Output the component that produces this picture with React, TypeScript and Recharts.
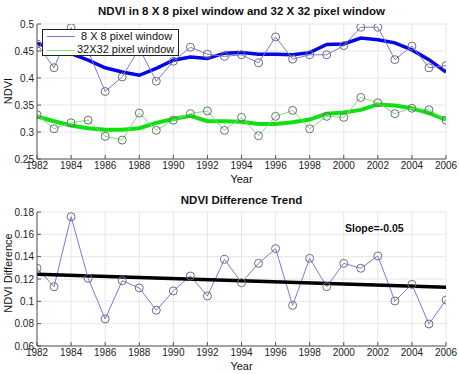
import React from 'react';
import { LineChart, Line, XAxis, YAxis, CartesianGrid } from 'recharts';

const years = [1982,1983,1984,1985,1986,1987,1988,1989,1990,1991,1992,1993,1994,1995,1996,1997,1998,1999,2000,2001,2002,2003,2004,2005,2006];
const ndvi8 = [0.463,0.419,0.493,0.450,0.375,0.402,0.455,0.394,0.431,0.457,0.444,0.440,0.443,0.428,0.476,0.435,0.443,0.443,0.460,0.494,0.494,0.434,0.459,0.419,0.423];
const smooth8 = [0.464,0.455,0.445,0.433,0.419,0.411,0.405,0.418,0.433,0.439,0.436,0.446,0.447,0.444,0.444,0.443,0.447,0.462,0.463,0.474,0.471,0.465,0.452,0.434,0.411];
const ndvi32 = [0.332,0.306,0.317,0.322,0.292,0.285,0.335,0.303,0.322,0.334,0.339,0.303,0.327,0.293,0.329,0.340,0.306,0.329,0.327,0.364,0.354,0.334,0.344,0.341,0.322];
const smooth32 = [0.329,0.320,0.312,0.307,0.304,0.304,0.307,0.317,0.324,0.330,0.320,0.320,0.319,0.315,0.315,0.318,0.323,0.334,0.336,0.341,0.351,0.349,0.344,0.335,0.323];
const diff = [0.1296,0.1131,0.1758,0.1206,0.0842,0.1185,0.112,0.092,0.1093,0.1227,0.1048,0.1376,0.1167,0.134,0.1472,0.0964,0.1385,0.1131,0.134,0.1296,0.1406,0.1003,0.1152,0.0797,0.1012];
const trendYears = [1982, 2006];
const trendValues = [0.1242, 0.1125];

const xTicks = [1982,1984,1986,1988,1990,1992,1994,1996,1998,2000,2002,2004,2006];
const topYTicks = [0.25,0.3,0.35,0.4,0.45,0.5];
const botYTicks = [0.06,0.08,0.1,0.12,0.14,0.16,0.18];

const topData = years.map((y, i) => ({ year: y, a8: ndvi8[i], s8: smooth8[i], a32: ndvi32[i], s32: smooth32[i] }));
const botData = years.map((y, i) => ({ year: y, d: diff[i] }));
const trendData = trendYears.map((y, i) => ({ year: y, t: trendValues[i] }));

const FONT = '"Liberation Sans", Arial, sans-serif';
const tickStyle = { fontSize: 10, fill: '#222', fontFamily: FONT };
const axisColor = '#555';

const fmtY = (v: number) => String(Math.round(v * 1000) / 1000);

const circle = (color: string) => (props: any) => {
  const { cx, cy, index } = props;
  if (cx == null || cy == null) return <g key={index} />;
  return <circle key={index} cx={cx} cy={cy} r={4} fill="none" stroke={color} strokeWidth={1} />;
};

const rotLabel = (text: string, cx: number, cy: number) => (
  <div style={{ position: 'absolute', left: cx - 60, top: cy - 7, width: 120, height: 14, lineHeight: '14px', textAlign: 'center', fontSize: 11, color: '#111', transform: 'rotate(-90deg)', transformOrigin: '50% 50%' }}>
    {text}
  </div>
);

export default function App() {
  return (
    <div style={{ position: 'absolute', left: 0, top: 0, width: 459, height: 374, background: '#fff', fontFamily: FONT }}>
      <div style={{ position: 'absolute', left: 0, top: 0 }}>
        <LineChart width={459} height={190} data={topData} margin={{ top: 24, right: 13, bottom: 11, left: 0 }}>
          <CartesianGrid stroke="#e6e6e6" />
          <XAxis dataKey="year" type="number" domain={[1982, 2006]} ticks={xTicks} tick={tickStyle} tickSize={-4} tickMargin={7} stroke={axisColor} height={20} interval={0} allowDataOverflow
            label={{ value: 'Year', position: 'bottom', offset: -4, style: { fontSize: 11, fill: '#111', fontFamily: FONT } }} />
          <XAxis xAxisId="top" orientation="top" dataKey="year" type="number" domain={[1982, 2006]} ticks={xTicks} tickSize={-4} tickFormatter={() => ''} stroke={axisColor} height={0} interval={0} />
          <YAxis type="number" domain={[0.25, 0.5]} ticks={topYTicks} tick={tickStyle} tickSize={-4} tickMargin={7} stroke={axisColor} width={37} interval={0} tickFormatter={fmtY} allowDataOverflow />
          <YAxis yAxisId="right" orientation="right" type="number" domain={[0.25, 0.5]} ticks={topYTicks} tickSize={-4} tickFormatter={() => ''} stroke={axisColor} width={0} interval={0} />
          <Line dataKey="s8" stroke="#0606e6" strokeWidth={3.5} dot={false} isAnimationActive={false} />
          <Line dataKey="a8" stroke="#7878e4" strokeWidth={1} dot={circle('#707070')} isAnimationActive={false} />
          <Line dataKey="s32" stroke="#10e010" strokeWidth={4} dot={false} isAnimationActive={false} />
          <Line dataKey="a32" stroke="#77e077" strokeWidth={1} dot={circle('#707070')} isAnimationActive={false} />
        </LineChart>
      </div>
      <div style={{ position: 'absolute', left: 37, width: 409, top: 5, textAlign: 'center', fontWeight: 'bold', fontSize: 11.5, color: '#111' }}>
        NDVI in 8 X 8 pixel window and 32 X 32 pixel window
      </div>
      {rotLabel('NDVI', 8, 91)}
      <div style={{ position: 'absolute', left: 42, top: 29, width: 137, height: 27, border: '1px solid #222', background: '#fff', fontSize: 11, color: '#111', boxSizing: 'border-box' }}>
        <div style={{ position: 'absolute', left: 4, top: 6, width: 28, height: 1, background: '#7878e4' }} />
        <div style={{ position: 'absolute', left: 38, top: 0, lineHeight: '13px' }}>8 X 8 pixel window</div>
        <div style={{ position: 'absolute', left: 4, top: 20, width: 28, height: 1, background: '#77e077' }} />
        <div style={{ position: 'absolute', left: 34, top: 13, lineHeight: '13px' }}>32X32 pixel window</div>
      </div>
      <div style={{ position: 'absolute', left: 0, top: 190 }}>
        <LineChart width={459} height={184} data={botData} margin={{ top: 22, right: 13, bottom: 8, left: 0 }}>
          <CartesianGrid stroke="#e6e6e6" />
          <XAxis dataKey="year" type="number" domain={[1982, 2006]} ticks={xTicks} tick={tickStyle} tickSize={-4} tickMargin={7} stroke={axisColor} height={20} interval={0} allowDataOverflow
            label={{ value: 'Year', position: 'bottom', offset: -4, style: { fontSize: 11, fill: '#111', fontFamily: FONT } }} />
          <XAxis xAxisId="top" orientation="top" dataKey="year" type="number" domain={[1982, 2006]} ticks={xTicks} tickSize={-4} tickFormatter={() => ''} stroke={axisColor} height={0} interval={0} />
          <YAxis type="number" domain={[0.06, 0.18]} ticks={botYTicks} tick={tickStyle} tickSize={-4} tickMargin={7} stroke={axisColor} width={37} interval={0} tickFormatter={fmtY} allowDataOverflow />
          <YAxis yAxisId="right" orientation="right" type="number" domain={[0.06, 0.18]} ticks={botYTicks} tickSize={-4} tickFormatter={() => ''} stroke={axisColor} width={0} interval={0} />
          <Line dataKey="d" stroke="#7878e0" strokeWidth={1} dot={circle('#707070')} isAnimationActive={false} />
          <Line data={trendData} dataKey="t" stroke="#000" strokeWidth={3.5} dot={false} isAnimationActive={false} />
        </LineChart>
      </div>
      <div style={{ position: 'absolute', left: 37, width: 409, top: 194, textAlign: 'center', fontWeight: 'bold', fontSize: 11.5, color: '#111' }}>
        NDVI Difference Trend
      </div>
      <div style={{ position: 'absolute', left: 345, top: 222, fontWeight: 'bold', fontSize: 10.5, color: '#111' }}>
        Slope=-0.05
      </div>
      {rotLabel('NDVI Difference', 8, 273)}
    </div>
  );
}
